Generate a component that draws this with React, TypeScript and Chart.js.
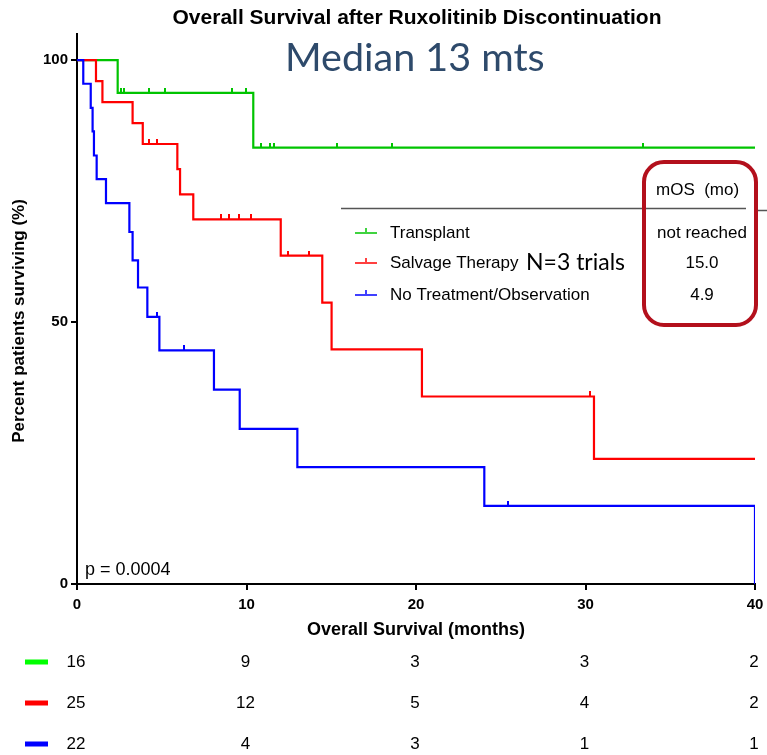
import React, { useEffect, useRef } from "react";
import { Chart, registerables } from "chart.js";

Chart.register(...registerables);

// ---- Data ----
const transplantTimes = [0, 2.4, 10.4, 40];
const transplantSurv = [100, 93.75, 83.3, 83.3];
const transplantCensorTimes = [2.6, 2.8, 4.25, 5.2, 9.15, 9.95, 10.85, 11.4, 11.65, 15.35, 18.6, 33.4];
const transplantCensorSurv = [93.75, 93.75, 93.75, 93.75, 93.75, 93.75, 83.3, 83.3, 83.3, 83.3, 83.3, 83.3];

const salvageTimes = [0, 1.12, 1.5, 3.28, 3.88, 5.92, 6.08, 6.86, 12.02, 14.47, 15.02, 20.35, 30.5, 40];
const salvageSurv = [100, 96, 92, 88, 84, 79.2, 74.4, 69.6, 62.7, 53.7, 44.8, 35.8, 23.9, 23.9];
const salvageCensorTimes = [4.27, 4.7, 8.48, 8.99, 9.54, 10.28, 12.45, 13.7, 30.27];
const salvageCensorSurv = [84, 84, 69.6, 69.6, 69.6, 69.6, 62.7, 62.7, 35.8];

const noTreatTimes = [0, 0.37, 0.81, 0.92, 1.0, 1.16, 1.71, 3.09, 3.28, 3.6, 4.15, 4.86, 8.08, 9.6, 13.0, 24.03, 40];
const noTreatSurv = [100, 95.5, 90.9, 86.4, 81.8, 77.3, 72.7, 67.2, 61.8, 56.6, 51.0, 44.6, 37.1, 29.6, 22.3, 14.9, 0];
const noTreatCensorTimes = [4.74, 6.31, 25.4];
const noTreatCensorSurv = [51.0, 44.6, 14.9];

const groupNames = ["Transplant", "Salvage Therapy", "No Treatment/Observation"];
const mosValues = ["not reached", "15.0", "4.9"];

const riskTimes = [0, 10, 20, 30, 40];
const riskTransplant = [16, 9, 3, 3, 2];
const riskSalvage = [25, 12, 5, 4, 2];
const riskNoTreat = [22, 4, 3, 1, 1];

const yTicks = [0, 50, 100];

const GREEN = "#00c400";
const RED = "#ff0000";
const BLUE = "#0000ff";

const toPts = (t: number[], s: number[]) => t.map((x, i) => ({ x, y: s[i] }));

function tickCanvas(color: string) {
  const c = document.createElement("canvas");
  c.width = 2;
  c.height = 10;
  const g = c.getContext("2d")!;
  g.fillStyle = color;
  g.fillRect(0, 0, 2, 5);
  return c;
}

const FONT = "'Liberation Sans', Arial, sans-serif";

const decorPlugin = {
  id: "decor",
  afterDraw(chart: any) {
    const ctx = chart.ctx as CanvasRenderingContext2D;
    const xs = chart.scales.x;
    ctx.save();
    // Title
    ctx.fillStyle = "#000";
    ctx.textAlign = "center";
    ctx.textBaseline = "middle";
    ctx.font = `bold 21px ${FONT}`;
    ctx.fillText("Overall Survival after Ruxolitinib Discontinuation", 417, 18);
    // Y title
    ctx.save();
    ctx.translate(19, 321);
    ctx.rotate(-Math.PI / 2);
    ctx.font = `bold 17px ${FONT}`;
    ctx.fillText("Percent patients surviving (%)", 0, 0);
    ctx.restore();
    // Median
    ctx.fillStyle = "#2e4a6b";
    ctx.font = "39.5px Lato, 'Open Sans', sans-serif";
    ctx.textAlign = "left";
    ctx.fillText("Median 13 mts", 285, 58);
    // p value
    ctx.fillStyle = "#000";
    ctx.font = `18px ${FONT}`;
    ctx.fillText("p = 0.0004", 85, 570);

    // legend header line
    ctx.strokeStyle = "#555";
    ctx.lineWidth = 1.5;
    ctx.beginPath();
    ctx.moveTo(341, 208.5);
    ctx.lineTo(746, 208.5);
    ctx.moveTo(758, 210.5);
    ctx.lineTo(767, 210.5);
    ctx.stroke();

    ctx.font = `17px ${FONT}`;
    ctx.fillStyle = "#000";
    ctx.textAlign = "left";
    ctx.fillText("mOS  (mo)", 656, 190);

    const colors = [GREEN, RED, BLUE];
    const ly = [233, 263, 295];
    groupNames.forEach((name, i) => {
      ctx.strokeStyle = colors[i];
      ctx.globalAlpha = 0.75;
      ctx.lineWidth = 2;
      ctx.beginPath();
      ctx.moveTo(355, ly[i]);
      ctx.lineTo(377, ly[i]);
      ctx.moveTo(366, ly[i]);
      ctx.lineTo(366, ly[i] - 5);
      ctx.stroke();
      ctx.globalAlpha = 1;
      ctx.fillStyle = "#000";
      ctx.font = `17px ${FONT}`;
      ctx.textAlign = "left";
      ctx.fillText(name, 390, ly[i]);
      ctx.textAlign = "center";
      ctx.fillText(mosValues[i], 702, ly[i]);
    });
    // N=3 trials
    ctx.textAlign = "left";
    ctx.font = "23px Lato, 'Open Sans', sans-serif";
    ctx.fillText("N=3 trials", 526, 263);

    // red rounded box
    ctx.strokeStyle = "#b3101c";
    ctx.lineWidth = 4;
    ctx.beginPath();
    (ctx as any).roundRect(644, 162, 112, 163, 20);
    ctx.stroke();

    // number at risk table
    const rows = [riskTransplant, riskSalvage, riskNoTreat];
    const rowColors = ["#00ff00", "#ff0000", "#0000ff"];
    const ry = [662, 703, 744];
    rows.forEach((vals, r) => {
      ctx.fillStyle = rowColors[r];
      ctx.fillRect(25, ry[r] - 2.5, 23, 5);
      ctx.fillStyle = "#000";
      ctx.font = `17px ${FONT}`;
      ctx.textAlign = "center";
      vals.forEach((v, k) => {
        ctx.fillText(String(v), xs.getPixelForValue(riskTimes[k]) - 1, ry[r]);
      });
    });
    ctx.restore();
  },
};

export default function App() {
  const ref = useRef<HTMLCanvasElement | null>(null);
  useEffect(() => {
    if (!ref.current) return;
    const stepDs = (label: string, t: number[], s: number[], color: string, order: number) => ({
      type: "line" as const,
      label,
      data: toPts(t, s),
      borderColor: color,
      backgroundColor: color,
      borderWidth: 2.2,
      pointRadius: 0,
      stepped: true,
      fill: false,
      order,
    });
    const censorDs = (label: string, t: number[], s: number[], color: string, order: number) => ({
      type: "scatter" as const,
      label,
      data: toPts(t, s),
      pointStyle: tickCanvas(color),
      pointRadius: 5,
      showLine: false,
      order,
    });
    const chart = new Chart(ref.current, {
      type: "line",
      data: {
        datasets: [
          stepDs("No Treatment/Observation", noTreatTimes, noTreatSurv, BLUE, 0),
          stepDs("Salvage Therapy", salvageTimes, salvageSurv, RED, 2),
          stepDs("Transplant", transplantTimes, transplantSurv, GREEN, 4),
          censorDs("nt c", noTreatCensorTimes, noTreatCensorSurv, BLUE, 1),
          censorDs("s c", salvageCensorTimes, salvageCensorSurv, RED, 3),
          censorDs("t c", transplantCensorTimes, transplantCensorSurv, GREEN, 5),
        ] as any,
      },
      options: {
        animation: false,
        responsive: false,
        events: [],
        layout: { padding: { left: 0, right: 12, top: 34, bottom: 111 } },
        plugins: { legend: { display: false }, tooltip: { enabled: false }, title: { display: false } },
        scales: {
          x: {
            type: "linear",
            min: 0,
            max: 40,
            afterFit: (s: any) => {
              s.height = 60;
              s.paddingLeft = 0;
              s.paddingRight = 0;
            },
            ticks: {
              stepSize: 10,
              color: "#000",
              padding: 6,
              font: { family: FONT, size: 15, weight: "bold" },
            },
            grid: { drawOnChartArea: false, drawTicks: true, tickLength: 6, color: "#000", lineWidth: 2 },
            border: { display: true, color: "#000", width: 2 },
            title: {
              display: true,
              text: "Overall Survival (months)",
              color: "#000",
              padding: { top: 0, bottom: 3 },
              font: { family: FONT, size: 18, weight: "bold" },
            },
          },
          y: {
            type: "linear",
            min: 0,
            max: 105,
            afterFit: (s: any) => {
              s.width = 77;
              s.paddingTop = 0;
              s.paddingBottom = 0;
            },
            afterBuildTicks: (s: any) => {
              s.ticks = yTicks.map((v) => ({ value: v }));
            },
            ticks: {
              color: "#000",
              padding: 3,
              font: { family: FONT, size: 15, weight: "bold" },
            },
            grid: { drawOnChartArea: false, drawTicks: true, tickLength: 6, color: "#000", lineWidth: 2 },
            border: { display: true, color: "#000", width: 2 },
            title: { display: false },
          },
        },
      },
      plugins: [decorPlugin],
    });
    return () => chart.destroy();
  }, []);
  return (
    <div style={{ position: "absolute", left: 0, top: 0, width: 767, height: 755, background: "#fff" }}>
      <canvas ref={ref} width={767} height={755} style={{ display: "block" }} />
    </div>
  );
}
